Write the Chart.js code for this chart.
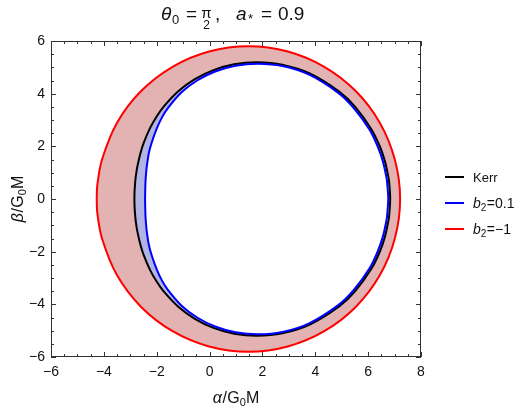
<!DOCTYPE html>
<html>
<head>
<meta charset="utf-8">
<script src="https://cdn.jsdelivr.net/npm/chart.js@4"></script>
<style>
  html, body { margin: 0; padding: 0; background: #fff; }
</style>
</head>
<body>
<canvas id="chart" width="529" height="410"></canvas>
<script>
// ── data ────────────────────────────────────────────────
const xTickValues = [-6, -4, -2, 0, 2, 4, 6, 8];
const yTickValues = [-6, -4, -2, 0, 2, 4, 6];

// Kerr shadow (black)
const kerrAlpha = [
  -2.844, -2.839, -2.813, -2.788, -2.737, -2.614, -2.492, -2.250, -2.002, -1.744, -1.185, -0.557, 0.147,
  0.932, 1.800, 2.753, 3.791, 4.915, 5.510, 6.127, 6.444, 6.636, 6.765, 6.798, 6.834,
  6.798, 6.765, 6.636, 6.444, 6.127, 5.510, 4.915, 3.791, 2.753, 1.800, 0.932,
  0.147, -0.557, -1.185, -1.744, -2.002, -2.250, -2.492, -2.614, -2.737, -2.788, -2.813, -2.839, -2.844,
];
const kerrBeta = [
  0, 0.279, 0.659, 0.885, 1.209, 1.748, 2.131, 2.700, 3.136, 3.500, 4.090, 4.549, 4.893,
  5.115, 5.196, 5.100, 4.766, 4.070, 3.499, 2.642, 1.994, 1.430, 0.840, 0.603, 0,
  -0.603, -0.840, -1.430, -1.994, -2.642, -3.499, -4.070, -4.766, -5.100, -5.196, -5.115,
  -4.893, -4.549, -4.090, -3.500, -3.136, -2.700, -2.131, -1.748, -1.209, -0.885, -0.659, -0.279, 0,
];

// b2 = 0.1 (blue)
const blueAlpha = [
  -2.440, -2.436, -2.425, -2.410, -2.380, -2.300, -2.200, -2.000, -1.800, -1.570, -1.060, -0.470, 0.210,
  0.980, 1.830, 2.760, 3.770, 4.870, 5.450, 6.060, 6.370, 6.560, 6.690, 6.720, 6.760,
  6.720, 6.690, 6.560, 6.370, 6.060, 5.450, 4.870, 3.770, 2.760, 1.830, 0.980,
  0.210, -0.470, -1.060, -1.570, -1.800, -2.000, -2.200, -2.300, -2.380, -2.410, -2.425, -2.436, -2.440,
];
const blueBeta = [
  0, 0.28, 0.65, 0.88, 1.20, 1.73, 2.11, 2.67, 3.10, 3.46, 4.05, 4.50, 4.84,
  5.06, 5.14, 5.05, 4.72, 4.03, 3.46, 2.62, 1.97, 1.42, 0.83, 0.60, 0,
  -0.60, -0.83, -1.42, -1.97, -2.62, -3.46, -4.03, -4.72, -5.05, -5.14, -5.06,
  -4.84, -4.50, -4.05, -3.46, -3.10, -2.67, -2.11, -1.73, -1.20, -0.88, -0.65, -0.28, 0,
];

// b2 = -1 (red)
const redAlpha = [
  -4.27, -4.25, -4.07, -3.50, -2.59, -1.40, -0.02, 1.47, 2.96, 4.34, 5.53, 6.44, 7.01, 7.21,
  7.01, 6.44, 5.53, 4.34, 2.96, 1.47, -0.02, -1.40, -2.59, -3.50, -4.07, -4.25, -4.27,
];
const redBeta = [
  0, 0.51, 1.50, 2.90, 4.10, 5.02, 5.60, 5.80, 5.60, 5.02, 4.10, 2.90, 1.50, 0,
  -1.50, -2.90, -4.10, -5.02, -5.60, -5.80, -5.60, -5.02, -4.10, -2.90, -1.50, -0.51, 0,
];

const FONT = '"Liberation Sans", Arial, sans-serif';
const PINK = "rgb(227,178,178)";
const LAVENDER = "rgb(178,180,227)";
const TENSION = 0.33;

const toPoints = (xs, ys) => xs.map((x, i) => ({ x, y: ys[i] }));

// ── mixed-style text runs (italic, subscripts) ───────────
function runsWidth(ctx, parts) {
  let w = 0;
  parts.forEach(p => { ctx.font = p.font; w += ctx.measureText(p.t).width + (p.gap || 0); });
  return w;
}
function drawRuns(ctx, parts, x, y) {
  parts.forEach(p => {
    ctx.font = p.font;
    ctx.fillText(p.t, x, y + (p.dy || 0));
    x += ctx.measureText(p.t).width + (p.gap || 0);
  });
  return x;
}

const axisLabel = (greek, size) => [
  { t: greek, font: `italic ${size}px ${FONT}`, gap: 0.5 },
  { t: "/", font: `${size}px ${FONT}`, gap: 0.5 },
  { t: "G", font: `${size}px ${FONT}` },
  { t: "0", font: `${Math.round(size * 0.7)}px ${FONT}`, dy: 3 },
  { t: "M", font: `${size}px ${FONT}` },
];

// ── frame, inward ticks, titles, legend ─────────────────
const decorPlugin = {
  id: "decor",
  afterDraw(chart) {
    const { ctx, chartArea: a, scales } = chart;
    const sx = scales.x, sy = scales.y;
    ctx.save();

    // frame
    ctx.strokeStyle = "#333";
    ctx.lineWidth = 1;
    ctx.strokeRect(a.left + 0.5, a.top + 0.5, a.right - a.left - 1, a.bottom - a.top - 1);

    // ticks pointing inward
    ctx.beginPath();
    for (let v = sx.min; v <= sx.max + 1e-9; v += 0.5) {
      const px = Math.round(sx.getPixelForValue(v)) + 0.5;
      const len = v % 2 === 0 ? 5 : 3;
      ctx.moveTo(px, a.bottom); ctx.lineTo(px, a.bottom - len);
      ctx.moveTo(px, a.top);    ctx.lineTo(px, a.top + len);
    }
    for (let v = sy.min; v <= sy.max + 1e-9; v += 0.5) {
      const py = Math.round(sy.getPixelForValue(v)) + 0.5;
      const len = v % 2 === 0 ? 5 : 3;
      ctx.moveTo(a.left, py);  ctx.lineTo(a.left + len, py);
      ctx.moveTo(a.right, py); ctx.lineTo(a.right - len, py);
    }
    ctx.stroke();

    ctx.fillStyle = "#111";
    ctx.textBaseline = "alphabetic";
    ctx.textAlign = "left";

    // title: θ0 = π/2,  a* = 0.9  (pieces placed as in the picture)
    const T = 19;
    const big = `${T}px ${FONT}`, ital = `italic ${T}px ${FONT}`, sub = `13px ${FONT}`;
    const put = (t, font, x, y, align) => {
      ctx.font = font; ctx.textAlign = align || "left"; ctx.fillText(t, x, y);
    };
    put("θ", ital, 161, 20);
    put("0", sub, 172, 24);
    put("=", big, 186, 20);
    put("π", `15px ${FONT}`, 206.5, 18, "center");
    put("2", `12px ${FONT}`, 206.5, 28.5, "center");
    put(",", big, 215, 20);
    put("a", ital, 236, 20);
    put("*", sub, 248, 23);
    put("=", big, 261, 20);
    put("0.9", big, 278, 20);
    ctx.textAlign = "left";

    // x axis title
    const xl = axisLabel("α", 16);
    const xc = (a.left + a.right) / 2;
    drawRuns(ctx, xl, xc - runsWidth(ctx, xl) / 2, 403);

    // y axis title (rotated)
    const yl = axisLabel("β", 16);
    ctx.save();
    ctx.translate(23, (a.top + a.bottom) / 2);
    ctx.rotate(-Math.PI / 2);
    drawRuns(ctx, yl, -runsWidth(ctx, yl) / 2, 0);
    ctx.restore();

    // legend
    const items = [
      { color: "#000", y: 177, parts: [{ t: "Kerr", font: `13px ${FONT}` }] },
      { color: "#0000ff", y: 203, parts: [
        { t: "b", font: `italic 14px ${FONT}` },
        { t: "2", font: `10px ${FONT}`, dy: 3, gap: 0.5 },
        { t: "=0.1", font: `14px ${FONT}` },
      ] },
      { color: "#ff0000", y: 229, parts: [
        { t: "b", font: `italic 14px ${FONT}` },
        { t: "2", font: `10px ${FONT}`, dy: 3, gap: 0.5 },
        { t: "=\u22121", font: `14px ${FONT}` },
      ] },
    ];
    items.forEach(it => {
      ctx.strokeStyle = it.color;
      ctx.lineWidth = 2;
      ctx.beginPath();
      ctx.moveTo(445, it.y); ctx.lineTo(464, it.y);
      ctx.stroke();
      drawRuns(ctx, it.parts, 473, it.y + 5);
    });

    ctx.restore();
  },
};

// ── datasets: fills underneath, curves on top ────────────
const curve = (data, color, order) => ({
  data, showLine: true, fill: false, borderColor: color, borderWidth: 2,
  pointRadius: 0, tension: TENSION, order,
});
const area = (data, color, order) => ({
  data, showLine: true, fill: "shape", backgroundColor: color,
  borderColor: "transparent", borderWidth: 0, pointRadius: 0, tension: TENSION, order,
});

new Chart(document.getElementById("chart"), {
  type: "scatter",
  data: {
    datasets: [
      curve(toPoints(blueAlpha, blueBeta), "#0000ff", 1),
      curve(toPoints(kerrAlpha, kerrBeta), "#000000", 2),
      curve(toPoints(redAlpha, redBeta), "#ff0000", 3),
      area(toPoints(blueAlpha, blueBeta), "#ffffff", 4),
      area(toPoints(kerrAlpha, kerrBeta), LAVENDER, 5),
      area(toPoints(redAlpha, redBeta), PINK, 6),
    ],
  },
  options: {
    responsive: false,
    animation: false,
    layout: { padding: { top: 41, right: 108, bottom: 0, left: 0 } },
    plugins: { legend: { display: false }, tooltip: { enabled: false } },
    scales: {
      x: {
        type: "linear", min: -6, max: 8,
        grid: { display: false, drawTicks: false },
        border: { display: false },
        ticks: {
          padding: 7, color: "#111", font: { family: FONT, size: 14 },
          callback: v => String(v).replace("-", "\u2212"),
        },
        afterBuildTicks: s => { s.ticks = xTickValues.map(v => ({ value: v })); },
        afterFit: s => { s.height = 53; },
      },
      y: {
        type: "linear", min: -6, max: 6,
        grid: { display: false, drawTicks: false },
        border: { display: false },
        ticks: {
          padding: 6, color: "#111", font: { family: FONT, size: 14 },
          callback: v => String(v).replace("-", "\u2212"),
        },
        afterBuildTicks: s => { s.ticks = yTickValues.map(v => ({ value: v })); },
        afterFit: s => { s.width = 51; },
      },
    },
  },
  plugins: [decorPlugin],
});
</script>
</body>
</html>
